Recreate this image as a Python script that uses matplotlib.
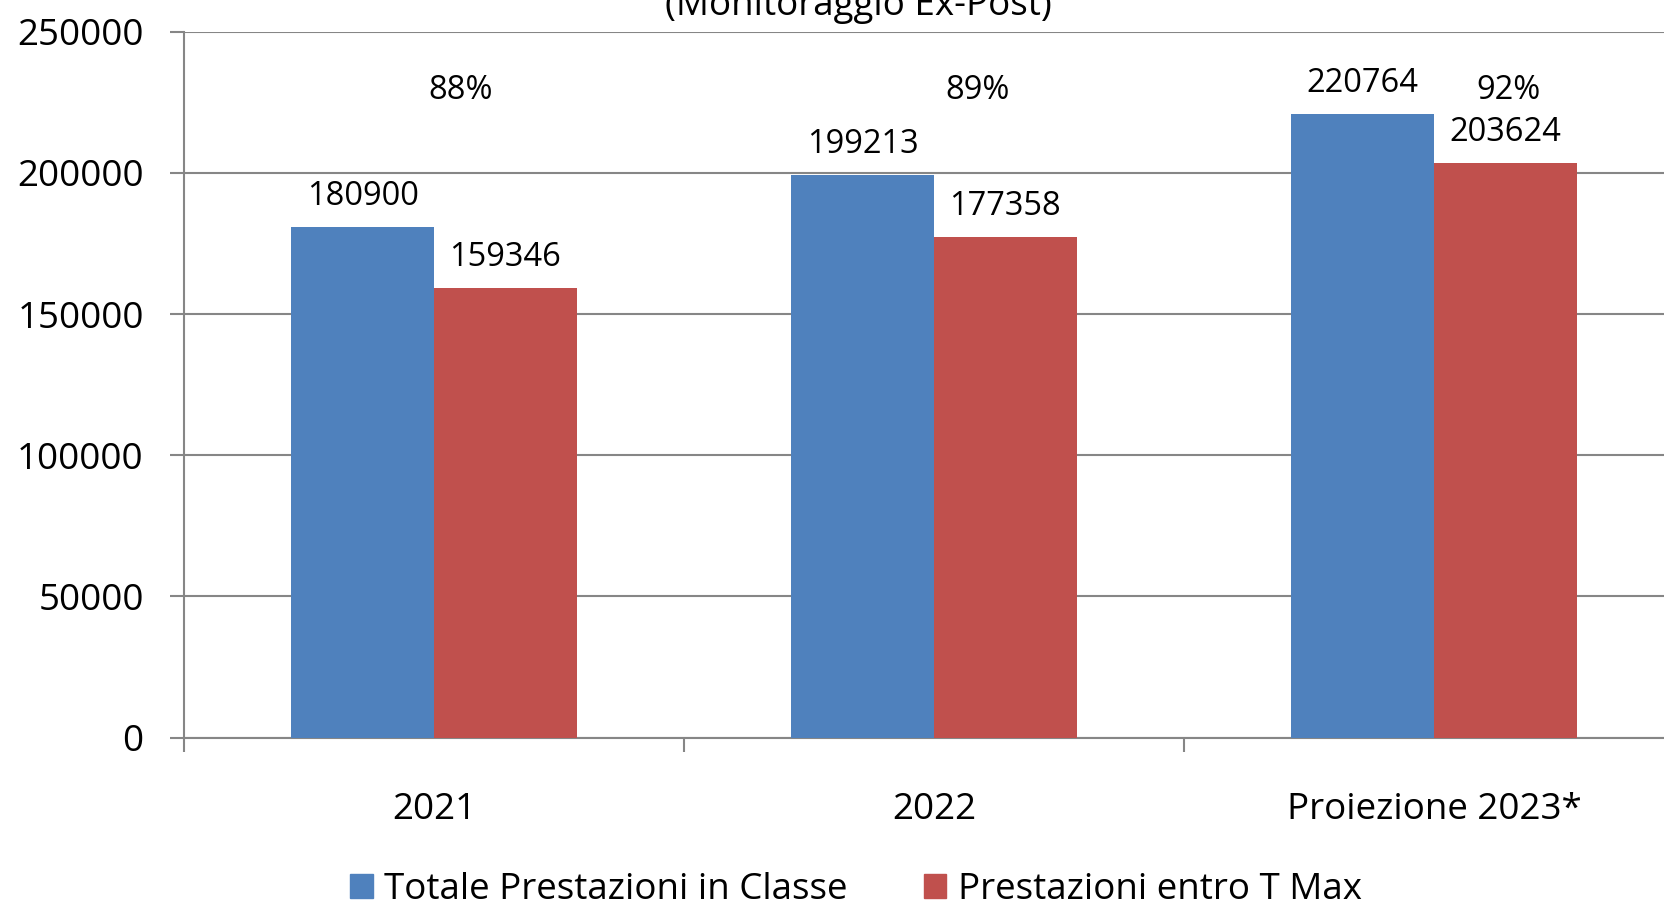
import matplotlib
matplotlib.use("Agg")
import matplotlib.pyplot as plt
from matplotlib.patches import Patch
import numpy as np

categories = ["2021", "2022", "Proiezione 2023*"]
totale = [180900, 199213, 220764]
entro_tmax = [159346, 177358, 203624]
percent_labels = ["88%", "89%", "92%"]
series_names = ["Totale Prestazioni in Classe", "Prestazioni entro T Max"]

plt.rcParams['font.family'] = ['Open Sans', 'DejaVu Sans']

BLUE = "#4F81BD"
RED = "#C0504D"
GREY = "#868686"

fig = plt.figure(figsize=(16.64, 9.09), dpi=100)
# plot area runs past the right edge, like the cropped original
ax = fig.add_axes([184 / 1664, 1 - 737.6 / 909, 1500 / 1664, (737.6 - 31.8) / 909])

x = np.arange(len(categories))
w = 0.2857
b1 = ax.bar(x - w / 2, totale, w, color=BLUE, zorder=3)
b2 = ax.bar(x + w / 2, entro_tmax, w, color=RED, zorder=3)

for bars in (b1, b2):
    for rect in bars:
        v = rect.get_height()
        ax.annotate(str(int(v)), (rect.get_x() + rect.get_width() / 2, v),
                    xytext=(0, 22), textcoords="offset points",
                    ha="center", va="center", fontsize=23.5)

# percentage text boxes sit above each group, shifted right a bit
pct_shift = [0.054, 0.088, 0.148]
for i, p in enumerate(percent_labels):
    ax.text(x[i] + pct_shift[i], 229300, p, ha="center", va="center", fontsize=23.5)

ax.set_xlim(-0.5, 2.5)
ax.set_ylim(0, 250000)
ax.set_yticks(np.arange(0, 250001, 50000))
ax.yaxis.grid(True, color=GREY, linewidth=1.5, zorder=0)
ax.set_axisbelow(True)

ax.set_xticks([-0.5, 0.5, 1.5, 2.5])
ax.set_xticklabels([])
ax.set_xticks(x, minor=True)
ax.set_xticklabels(categories, minor=True)
ax.tick_params(axis="x", which="major", length=10, width=1.5, color=GREY)
ax.tick_params(axis="x", which="minor", length=0, pad=39, labelsize=26.5)
ax.tick_params(axis="y", length=10, width=1.5, color=GREY, pad=19, labelsize=26.5)

for s in ("top", "right"):
    ax.spines[s].set_visible(False)
for s in ("left", "bottom"):
    ax.spines[s].set_color(GREY)
    ax.spines[s].set_linewidth(1.5)

# title is cut at the top edge, as in the source picture
fig.text(858 / 1664, 1 - 15 / 909, "(Monitoraggio Ex-Post)", ha="center",
         va="baseline", fontsize=26.5)

handles = [Patch(color=BLUE), Patch(color=RED)]
fig.legend(handles, series_names, loc="center", bbox_to_anchor=(856 / 1664, 1 - 890 / 909),
           ncol=2, frameon=False, fontsize=26.5, handlelength=0.6, handleheight=0.6,
           handletextpad=0.3, columnspacing=2.1, borderpad=0)

fig.savefig("out.png", dpi=100)
